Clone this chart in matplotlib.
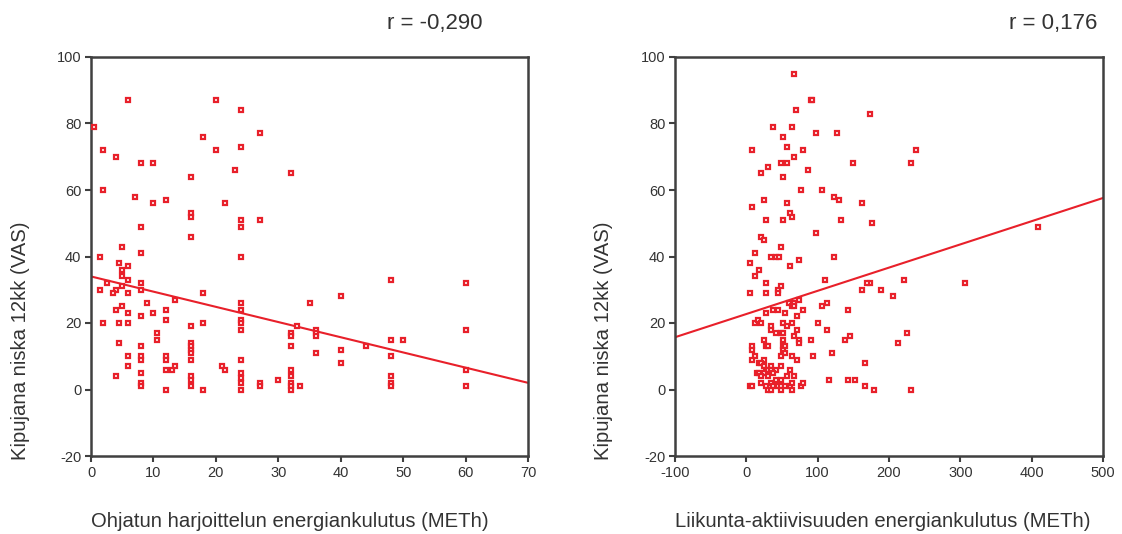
import numpy as np
import matplotlib
matplotlib.use('Agg')
import matplotlib.pyplot as plt

plt.rcParams['font.family'] = ['Liberation Sans', 'DejaVu Sans']
plt.rcParams['axes.unicode_minus'] = False

# vasen kuvio: ohjattu harjoittelu (METh) vs kipu 12kk (VAS)
ohj_x = [6, 20, 24, 0.5, 27, 18, 2, 4, 20, 24, 8, 10, 23, 16, 32,
         2, 7, 10, 12, 21.5, 16, 16, 24, 27, 8, 24, 16,
         5, 1.5, 8, 24,
         4.5, 6, 5, 5, 6, 2.5, 5, 8, 1.5, 4, 3.5, 6, 8, 18,
         9, 13.5, 24, 24, 4, 5, 6, 10, 12, 12, 8,
         2, 4.5, 6, 18, 16, 24, 24, 24, 33, 32, 32, 32,
         10.5, 10.5, 4.5, 8, 6, 8, 8, 12, 12,
         16, 16, 16, 16, 16, 24, 6, 12, 13, 13.5, 21, 21.5,
         4, 8, 8, 8, 16, 16, 16, 12, 18, 24, 24, 24, 24,
         27, 27, 30, 32, 32, 32, 32, 32, 33.5,
         35, 40, 48, 60, 36, 36, 36, 36, 40, 40, 44, 48, 50, 48, 48, 48, 48, 60, 60, 60]
ohj_y = [87, 87, 84, 79, 77, 76, 72, 70, 72, 73, 68, 68, 66, 64, 65,
         60, 58, 56, 57, 56, 53, 52, 51, 51, 49, 49, 46,
         43, 40, 41, 40,
         38, 37, 36, 34, 33, 32, 31, 32, 30, 30, 29, 29, 30, 29,
         26, 27, 26, 24, 24, 25, 23, 23, 24, 21, 22,
         20, 20, 20, 20, 19, 21, 20, 18, 19, 17, 16, 13,
         17, 15, 14, 13, 10, 10, 9, 10, 9,
         14, 13, 12, 11, 9, 9, 7, 6, 6, 7, 7, 6,
         4, 5, 2, 1, 4, 3, 1, 0, 0, 5, 3.5, 2, 0,
         2, 1, 3, 6, 4, 2, 1, 0, 1,
         26, 28, 33, 32, 18, 17, 16, 11, 12, 8, 13, 15, 15, 10, 4, 2, 1, 18, 6, 1]
ohj_fit = (34.0, -0.457)   # vakio, kulmakerroin

# oikea kuvio: liikunta-aktiivisuus (METh) vs kipu 12kk (VAS)
lii_x = [67, 90, 92, 70, 173, 38, 64, 97, 127, 51, 8, 57, 80, 238, 67, 30, 48, 57, 231, 149,
         21, 87, 51, 77, 106, 123, 130, 25, 8, 57, 162, 61, 64, 28, 51, 133, 176, 409, 97, 21,
         25, 48, 12, 34, 41, 46, 74, 123, 5, 61, 18, 12, 110, 221, 28, 173, 307, 169, 48, 44,
         44, 5, 28, 189, 162, 205, 74, 60, 64, 67, 67, 106, 113, 38, 44, 80, 142, 28, 54, 71,
         12, 16, 21, 51, 64, 100, 35, 35, 57, 71, 113, 225, 41, 48, 51, 67, 146, 25, 51, 74,
         74, 90, 139, 212, 8, 8, 28, 31, 51, 54, 51,
         54, 120, 12, 8, 25, 48, 64, 71, 93, 166, 18, 21, 25, 35, 48, 28, 31, 35, 41, 61,
         15, 18, 25, 38, 21, 31, 57, 67, 41, 48, 116, 142, 153, 21, 5, 8, 28, 166,
         35, 38, 44, 48, 54, 61, 64, 77, 80, 31, 35, 48, 64, 179, 231]
lii_y = [95, 87, 87, 84, 83, 79, 79, 77, 77, 76, 72, 73, 72, 72, 70, 67, 68, 68, 68, 68,
         65, 66, 64, 60, 60, 58, 57, 57, 55, 56, 56, 53, 52, 51, 51, 51, 50, 49, 47, 46,
         45, 43, 41, 40, 40, 40, 39, 40, 38, 37, 36, 34, 33, 33, 32, 32, 32, 32, 31, 30,
         29, 29, 29, 30, 30, 28, 27, 26, 25, 26, 25, 25, 26, 24, 24, 24, 24, 23, 23, 22,
         20, 21, 20, 20, 20, 20, 19, 18, 19, 18, 18, 17, 17, 17, 17, 16, 16, 15, 15, 15,
         14, 15, 15, 14, 13, 12, 13, 13, 13, 13, 12,
         11, 11, 10, 9, 9, 10, 10, 9, 10, 8, 8, 8, 7, 7, 7, 6, 6, 6, 6, 6,
         5, 5, 5, 5, 4, 4, 4, 4, 3, 3, 3, 3, 3, 2, 1, 1, 1, 1,
         2, 1, 1, 1, 1, 1, 2, 1, 2, 0, 0, 0, 0, 0, 0]
lii_fit = (22.7, 0.0698)

punainen = '#e8202a'
harmaa = '#404040'

fig = plt.figure(figsize=(11.22, 5.34), dpi=100)
ax1 = fig.add_axes([91 / 1122, 1 - 456 / 534, 437 / 1122, 399 / 534])
ax2 = fig.add_axes([675 / 1122, 1 - 456 / 534, 428 / 1122, 399 / 534])


def piirra(ax, x, y, fit, xlim, xticks, xlabel, r_teksti, r_x):
    ax.plot(x, y, 's', ms=3.4, mfc='white', mec=punainen, mew=1.6, ls='none', zorder=3)
    xx = np.array(xlim, dtype=float)
    ax.plot(xx, fit[0] + fit[1] * xx, color=punainen, lw=1.5, zorder=2)
    ax.set_xlim(xlim)
    ax.set_ylim(-20, 100)
    ax.set_xticks(xticks)
    ax.set_yticks(range(-20, 101, 20))
    for s in ax.spines.values():
        s.set_color(harmaa)
        s.set_linewidth(1.8)
    ax.tick_params(direction='out', length=4, width=1.5, color=harmaa,
                   labelsize=10.5, labelcolor='#333333', pad=3)
    ax.set_xlabel(xlabel, loc='left', fontsize=14.6, color='#333333')
    ax.xaxis.set_label_coords(0.0, -0.14)
    ax.set_ylabel('Kipujana niska 12kk (VAS)', loc='bottom', fontsize=14.6, color='#333333')
    ax.text(r_x, 1.085, r_teksti, transform=ax.transAxes, ha='right', va='center',
            fontsize=16, color='#333333')


piirra(ax1, ohj_x, ohj_y, ohj_fit, (0, 70), range(0, 71, 10),
       'Ohjatun harjoittelun energiankulutus (METh)', 'r = -0,290', 0.897)
ax1.yaxis.set_label_coords(-0.14, -0.01)

piirra(ax2, lii_x, lii_y, lii_fit, (-100, 500), range(-100, 501, 100),
       'Liikunta-aktiivisuuden energiankulutus (METh)', 'r = 0,176', 0.986)
ax2.yaxis.set_label_coords(-0.145, -0.01)

fig.savefig('out.png', dpi=100)
